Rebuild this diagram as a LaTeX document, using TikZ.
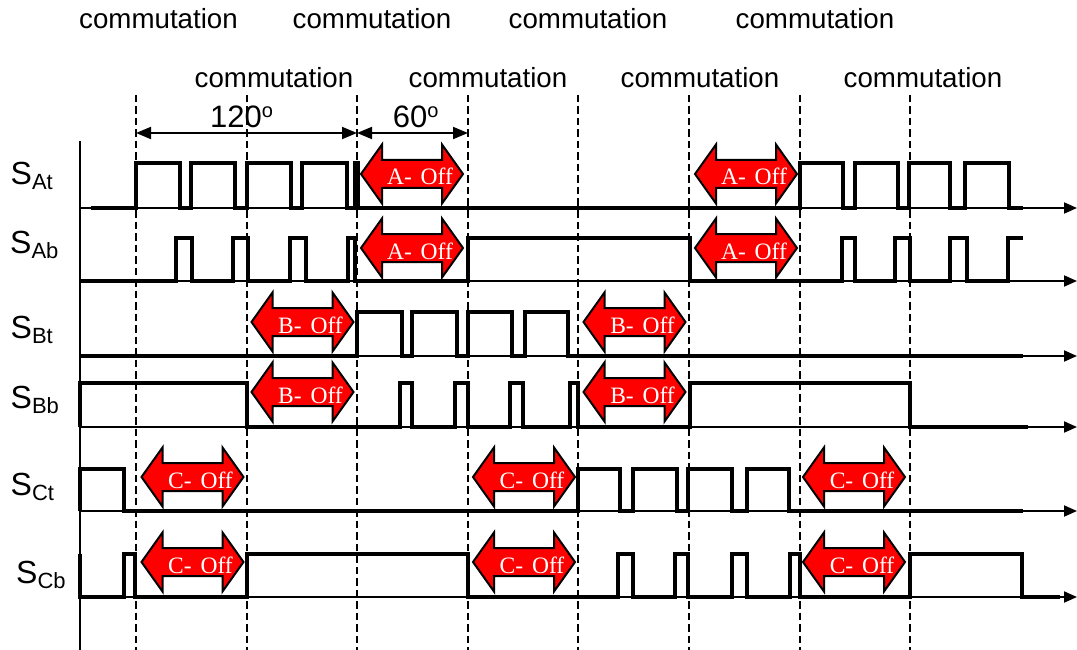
\documentclass[tikz,border=0pt]{standalone}
\usepackage{fontspec}
\setmainfont{Liberation Sans}
\newfontfamily\offfont[WordSpace=1.5]{Liberation Serif}
\usetikzlibrary{arrows.meta}

\tikzset{
  sig/.style={line width=3.5pt, line join=miter},
  axisl/.style={line width=1.8pt, -{Triangle[length=13pt,width=11pt]}},
  vline/.style={line width=2.1pt, dash pattern=on 7.5pt off 4pt},
  dimarrow/.style={line width=1.8pt, {Triangle[length=15pt,width=12pt]}-{Triangle[length=15pt,width=12pt]}},
  comm/.style={font=\fontsize{27.7}{30}\selectfont, anchor=base, inner sep=0pt},
  degtxt/.style={font=\fontsize{31}{34}\selectfont, anchor=base, inner sep=0pt},
  offtxt/.style={font=\offfont\fontsize{23.5}{25}\selectfont, text=white, anchor=base, inner sep=0pt},
  offshape/.style={fill=red, draw=black, line width=2pt, line join=miter},
  siglabel/.style={anchor=base west, inner sep=0pt},
}

\newcommand\OffArrow[4]{%
  \draw[offshape] (#2-51,#3) -- (#2-30,#3-29.5) -- (#2-30,#3-14) -- (#2+30,#3-14)
    -- (#2+30,#3-29.5) -- (#2+51,#3) -- (#2+30,#3+29.5) -- (#2+30,#3+14)
    -- (#2-30,#3+14) -- (#2-30,#3+29.5) -- cycle;
  \node[offtxt] (#1) at (#2+8,#3+11) {#4};
}
\newcommand\SigLabel[5]{%
  \node[siglabel] (#1) at (#2,#3) {{\fontsize{32}{36}\selectfont S}\raisebox{-5pt}{\fontsize{22}{24}\selectfont #4#5}};
}

\begin{document}
\begin{tikzpicture}[x=1pt,y=-1pt]
\fill[white] (0,0) rectangle (1077,650);
\useasboundingbox (0,0) rectangle (1077,650);

% commutation labels
\node[comm] (c1) at (158.5,29) {commutation};
\node[comm] (c2) at (372,29) {commutation};
\node[comm] (c3) at (588,29) {commutation};
\node[comm] (c4) at (815,29) {commutation};
\node[comm] (c5) at (274,87.5) {commutation};
\node[comm] (c6) at (488,87.5) {commutation};
\node[comm] (c7) at (700,87.5) {commutation};
\node[comm] (c8) at (923,87.5) {commutation};

% dashed commutation lines
\foreach \i/\x in {0/136,1/247,2/357,3/468,4/578,5/689,6/800,7/910}{
  \coordinate (t\i) at (\x,95);
  \coordinate (b\i) at (\x,650);
  \draw[vline] (t\i) -- (b\i);
}

% vertical axis
\coordinate (vtop) at (80,141);
\coordinate (vbot) at (80,650);
\draw[line width=1.8pt] (vtop) -- (vbot);

% horizontal axes
\foreach \n/\y in {at/208,ab/281,bt/356,bb/427,ct/511,cb/597}{
  \coordinate (s\n) at (80,\y);
  \coordinate (e\n) at (1077,\y);
  \draw[axisl] (s\n) -- (e\n);
}

% angle dimensions
\coordinate (d0) at (136,133);
\coordinate (d1) at (357,133);
\coordinate (d2) at (468,133);
\draw[dimarrow] (d0) -- (d1);
\draw[dimarrow] (d1) -- (d2);
\node[degtxt] (deg120) at (241.5,128) {120\raisebox{10pt}{\fontsize{20}{22}\selectfont o}};
\node[degtxt] (deg60) at (415.7,128) {60\raisebox{10pt}{\fontsize{20}{22}\selectfont o}};

% signal labels
\SigLabel{lat}{10.5}{185}{A}{t}
\SigLabel{lab}{10}{253}{A}{b}
\SigLabel{lbt}{10.5}{338}{B}{t}
\SigLabel{lbb}{10.5}{408}{B}{b}
\SigLabel{lct}{10.5}{495}{C}{t}
\SigLabel{lcb}{16}{583}{C}{b}

% S_At
\draw[sig] (91,208) -- (136,208) -- (136,163) -- (180,163) -- (180,208) -- (191,208) -- (191,163)
  -- (235,163) -- (235,208) -- (247,208) -- (247,163) -- (291,163) -- (291,208) -- (302,208)
  -- (302,163) -- (347,163) -- (347,208) -- (355,208) -- (355,163) -- (358,163) -- (358,208)
  -- (800,208) -- (800,163) -- (843,163) -- (843,208) -- (855,208) -- (855,163) -- (898,163)
  -- (898,208) -- (909,208) -- (909,163) -- (950,163) -- (950,208) -- (965,208) -- (965,163)
  -- (1009,163) -- (1009,208) -- (1023,208);
% S_Ab
\draw[sig] (80,281) -- (176,281) -- (176,238) -- (192,238) -- (192,281) -- (233,281) -- (233,238)
  -- (248,238) -- (248,281) -- (290,281) -- (290,238) -- (306,238) -- (306,281) -- (348,281)
  -- (348,238) -- (355,238) -- (355,281) -- (468,281) -- (468,238) -- (690,238) -- (690,281)
  -- (842,281) -- (842,238) -- (855,238) -- (855,281) -- (895,281) -- (895,238) -- (910,238)
  -- (910,281) -- (950,281) -- (950,238) -- (967,238) -- (967,281) -- (1008,281) -- (1008,238)
  -- (1023,238);
% S_Bt
\draw[sig] (80,356) -- (357,356) -- (357,312) -- (402,312) -- (402,356) -- (412,356) -- (412,312)
  -- (457,312) -- (457,356) -- (468,356) -- (468,312) -- (512,312) -- (512,356) -- (525,356)
  -- (525,312) -- (568,312) -- (568,356) -- (1023,356);
% S_Bb
\draw[sig] (80,427) -- (80,383) -- (247,383) -- (247,427) -- (400,427) -- (400,383) -- (412,383)
  -- (412,427) -- (455,427) -- (455,383) -- (468,383) -- (468,427) -- (510,427) -- (510,383)
  -- (523,383) -- (523,427) -- (570,427) -- (570,383) -- (578,383) -- (578,427) -- (690,427)
  -- (690,383) -- (910,383) -- (910,427) -- (1028,427);
% S_Ct
\draw[sig] (80,511) -- (80,469) -- (124,469) -- (124,511) -- (578,511) -- (578,469) -- (620,469)
  -- (620,511) -- (633,511) -- (633,469) -- (677,469) -- (677,511) -- (688,511) -- (688,469)
  -- (732,469) -- (732,511) -- (747,511) -- (747,469) -- (789,469) -- (789,511) -- (1023,511);
% S_Cb
\draw[sig] (80,554) -- (80,597) -- (124,597) -- (124,554) -- (135,554) -- (135,597) -- (247,597)
  -- (247,554) -- (468,554) -- (468,597) -- (618,597) -- (618,554) -- (633,554) -- (633,597)
  -- (675,597) -- (675,554) -- (688,554) -- (688,597) -- (732,597) -- (732,554) -- (747,554)
  -- (747,597) -- (790,597) -- (790,554) -- (800,554) -- (800,597) -- (910,597) -- (910,554)
  -- (1022,554) -- (1022,597) -- (1060,597);

% off arrows
\OffArrow{aoff1}{412}{174}{A- Off}
\OffArrow{aoff2}{746}{174}{A- Off}
\OffArrow{aoff3}{412}{248}{A- Off}
\OffArrow{aoff4}{746}{248}{A- Off}
\OffArrow{boff1}{302.5}{322}{B- Off}
\OffArrow{boff2}{634.5}{322}{B- Off}
\OffArrow{boff3}{302.5}{392}{B- Off}
\OffArrow{boff4}{634.5}{392}{B- Off}
\OffArrow{coff1}{192.5}{477}{C- Off}
\OffArrow{coff2}{524}{477}{C- Off}
\OffArrow{coff3}{854}{477}{C- Off}
\OffArrow{coff4}{192.5}{562}{C- Off}
\OffArrow{coff5}{524}{562}{C- Off}
\OffArrow{coff6}{854}{562}{C- Off}
\end{tikzpicture}
\end{document}
